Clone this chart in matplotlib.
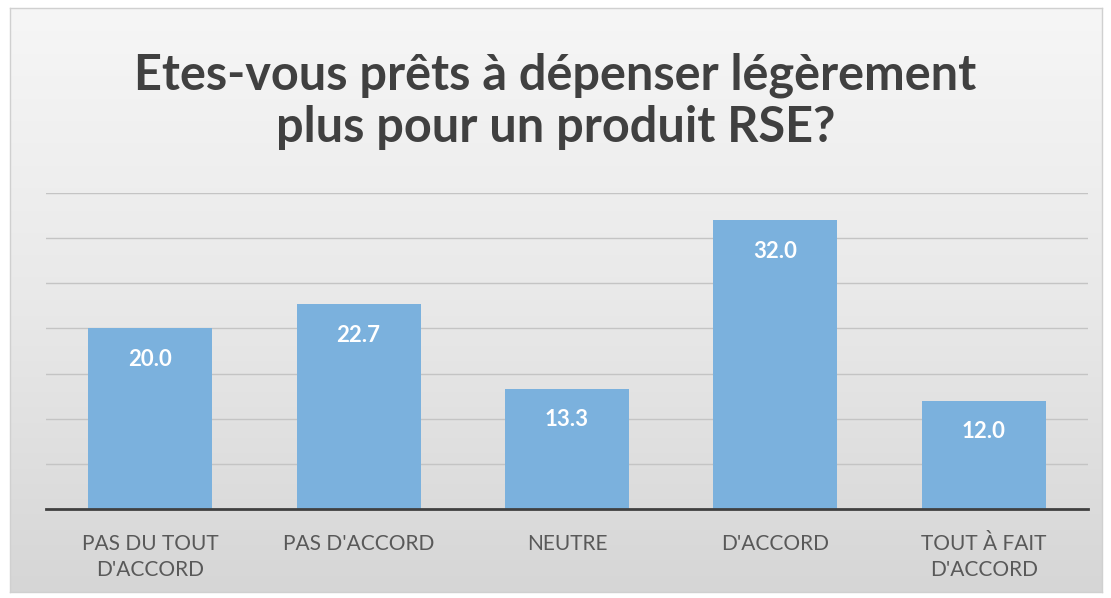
import numpy as np
import matplotlib.pyplot as plt

categories = ["PAS DU TOUT\nD'ACCORD", "PAS D'ACCORD", "NEUTRE", "D'ACCORD", "TOUT À FAIT\nD'ACCORD"]
values = [20.0, 22.7, 13.3, 32.0, 12.0]
title = "Etes-vous prêts à dépenser légèrement\nplus pour un produit RSE?"

plt.rcParams['font.family'] = ['Lato', 'DejaVu Sans']

W, H = 1111, 598
fig = plt.figure(figsize=(W / 100, H / 100), dpi=100)
fig.patch.set_facecolor('white')

# gradient background panel with thin border
bg = fig.add_axes([10 / W, 1 - 592 / H, 1092 / W, 584 / H])
grad = np.linspace(0, 1, 256).reshape(-1, 1)
bg.imshow(grad, aspect='auto', cmap=plt.matplotlib.colors.LinearSegmentedColormap.from_list(
    'g', ['#f6f6f6', '#e9e9e9', '#d6d6d6']), extent=[0, 1, 0, 1], origin='upper')
bg.set_xticks([])
bg.set_yticks([])
for s in bg.spines.values():
    s.set_color('#d0d0d0')
    s.set_linewidth(1)

ax = fig.add_axes([46 / W, 1 - 509 / H, 1042 / W, 316 / H])
ax.patch.set_alpha(0)
x = np.arange(len(categories))
bars = ax.bar(x, values, width=0.595, color='#7bb1dd', zorder=3)
ax.set_xlim(-0.5, len(categories) - 0.5)
ax.set_ylim(0, 35)
ax.set_yticks(np.arange(5, 36, 5))
ax.yaxis.grid(True, color='#c4c4c4', linewidth=1, zorder=0)
ax.tick_params(axis='y', length=0, labelleft=False)
ax.tick_params(axis='x', length=0, pad=18)
ax.set_xticks(x)
ax.set_xticklabels(categories, fontsize=15, color='#595959', linespacing=1.4)
for s in ['top', 'right', 'left']:
    ax.spines[s].set_visible(False)
ax.spines['bottom'].set_color('#404040')
ax.spines['bottom'].set_linewidth(2)
ax.spines['bottom'].set_zorder(4)

for b, v in zip(bars, values):
    ax.annotate(f"{v:.1f}", (b.get_x() + b.get_width() / 2, v), xytext=(0, -31),
                textcoords='offset pixels',
                ha='center', va='center', color='white', fontsize=16, fontweight='bold', zorder=5)

fig.text(0.5, 1 - 101 / H, title, ha='center', va='center', fontsize=35, fontweight='bold',
         color='#404040', linespacing=1.2)

fig.savefig('out.png', dpi=100)
